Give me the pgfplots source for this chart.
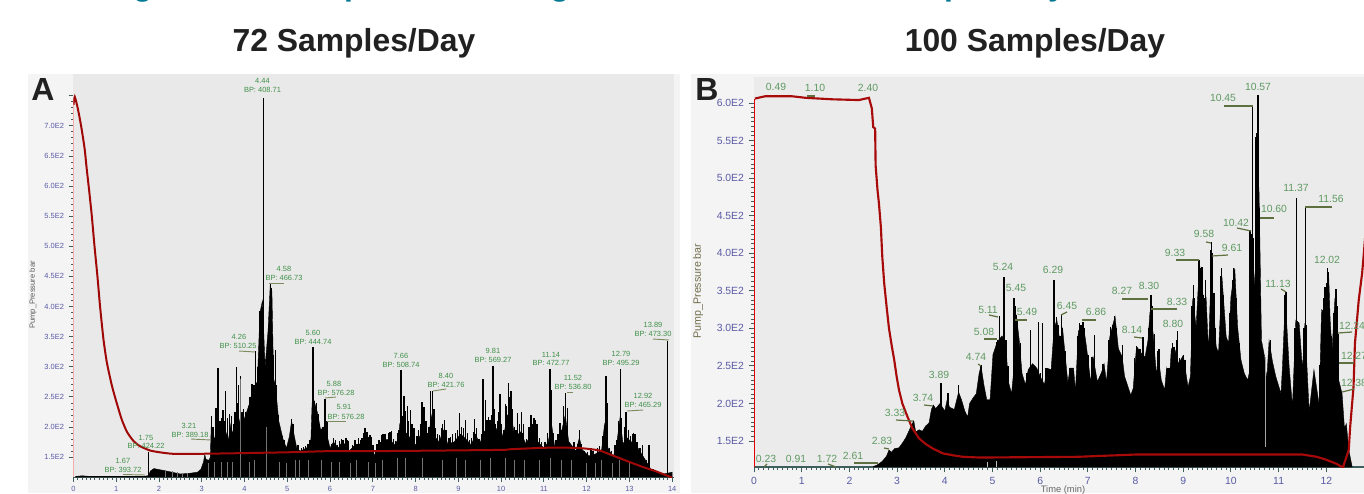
\documentclass[border=0pt]{standalone}
\usepackage{pgfplots}
\pgfplotsset{compat=1.18}
\usepackage{fontspec}
\setmainfont{Liberation Sans}
\definecolor{tickblue}{HTML}{5A5AA6}
\definecolor{tickdark}{HTML}{3E5F5C}
\definecolor{labA}{HTML}{3F9048}
\definecolor{labB}{HTML}{5F9A62}
\definecolor{leadA}{HTML}{7C8C60}
\definecolor{leadB}{HTML}{5F7040}
\definecolor{presA}{HTML}{A00808}
\definecolor{presB}{HTML}{A80A0A}
\definecolor{teal1}{HTML}{007A94}
\newcommand\fA{\fontsize{5.6}{6}\selectfont}
\newcommand\fB{\fontsize{7.8}{8}\selectfont}
\newcommand\La[3]{\node[text=labA,inner sep=0pt] at (#1,#2) {\fA #3};}
\newcommand\Lb[3]{\node[text=labB,inner sep=0pt] at (#1,#2) {\fB #3};}
\newcommand\Da[4]{\draw[leadA,line width=.7pt] (#1,#2)--(#3,#4);}
\newcommand\Db[4]{\draw[leadB,line width=.9pt] (#1,#2)--(#3,#4);}
\pgfplotstableread{
t v
0.05 118
0.2 119
0.4 118
0.8 118
1.2 118
1.6 118
1.74 119
1.76 121
1.8 127
1.88 131
1.95 130
2.1 128
2.3 125
2.5 122
2.7 123
2.9 125
2.98 130
3.04 142
3.07 154
3.1 146
3.17 145
3.2 150
3.22 200
3.3 178
3.36 215
3.42 190
3.5 215
3.55 195
3.62 178
3.68 205
3.72 188
3.8 215
3.85 200
3.9 215
3.95 205
4.0 215
4.05 225
4.12 240
4.2 265
4.3 275
4.36 390
4.42 410
4.48 300
4.55 360
4.6 435
4.64 425
4.68 280
4.72 270
4.8 210
4.9 180
4.98 165
5.05 185
5.1 210
5.15 190
5.22 165
5.3 160
5.45 165
5.55 175
5.58 240
5.62 245
5.7 225
5.78 195
5.85 200
5.95 180
6.0 165
6.08 175
6.2 165
6.25 172
6.35 172
6.45 160
6.55 168
6.7 172
6.82 185
6.95 175
7.03 152
7.12 168
7.25 178
7.4 180
7.5 170
7.6 180
7.63 205
7.7 188
7.8 190
7.9 178
8.0 170
8.1 185
8.2 195
8.3 185
8.38 220
8.44 185
8.55 175
8.65 195
8.75 172
8.9 175
9.05 188
9.15 182
9.3 170
9.4 188
9.5 172
9.6 192
9.72 200
9.85 190
9.95 205
10.05 182
10.15 220
10.25 215
10.32 182
10.45 192
10.58 172
10.7 188
10.85 176
11.0 165
11.1 175
11.18 205
11.25 168
11.38 182
11.5 220
11.58 176
11.75 160
11.83 182
11.9 162
12.05 152
12.2 155
12.35 162
12.42 205
12.5 165
12.62 150
12.7 170
12.78 215
12.85 172
12.95 182
13.05 175
13.2 165
13.35 148
13.5 130
13.65 125
13.8 122
14.0 125
}\bodyA
\pgfplotstableread{
t v
1.75 158
3.23 218
3.26 200
3.33 232
3.38 298
3.43 210
3.47 215
3.5 228
3.53 210
3.56 260
3.6 215
3.65 222
3.7 218
3.75 205
3.78 225
3.81 300
3.84 240
3.86 270
3.91 285
3.94 225
3.98 230
4.02 225
4.05 218
4.09 235
4.13 250
4.17 272
4.22 270
4.26 327
4.3 300
4.33 290
4.36 392
4.4 400
4.44 746
4.5 292
4.53 320
4.56 370
4.6 438
4.63 430
4.67 320
4.72 328
4.75 270
4.78 220
4.82 195
4.88 185
4.92 178
5.03 170
5.1 213
5.13 205
5.17 180
5.25 170
5.33 165
5.38 167
5.43 168
5.48 172
5.53 178
5.6 333
5.63 243
5.68 240
5.72 222
5.75 205
5.82 200
5.88 247
5.91 195
5.93 210
5.97 175
6.04 172
6.08 182
6.12 178
6.17 170
6.22 176
6.27 180
6.3 178
6.33 172
6.37 182
6.4 178
6.43 176
6.5 158
6.53 170
6.58 178
6.63 172
6.67 182
6.71 178
6.75 181
6.79 190
6.82 198
6.86 192
6.9 184
6.93 186
6.97 184
7.0 170
7.07 160
7.1 172
7.14 178
7.18 175
7.21 186
7.24 189
7.28 188
7.32 178
7.36 190
7.4 192
7.44 194
7.48 180
7.53 176
7.57 190
7.6 195
7.64 275
7.66 294
7.69 218
7.73 252
7.77 227
7.81 235
7.84 210
7.88 228
7.92 205
7.96 198
8.03 185
8.07 195
8.11 205
8.15 242
8.2 234
8.24 210
8.28 190
8.31 200
8.35 259
8.4 260
8.43 230
8.47 198
8.51 188
8.56 186
8.6 198
8.63 205
8.67 212
8.71 195
8.78 182
8.82 184
8.87 188
8.93 190
8.98 195
9.03 223
9.07 200
9.12 198
9.17 212
9.21 190
9.26 178
9.31 182
9.35 192
9.38 214
9.43 198
9.48 180
9.54 188
9.58 280
9.63 245
9.67 212
9.7 217
9.74 212
9.78 220
9.81 302
9.84 230
9.87 205
9.91 210
9.94 225
9.97 254
10.01 205
10.07 195
10.1 239
10.13 235
10.17 273
10.2 250
10.23 259
10.27 230
10.31 200
10.35 195
10.39 223
10.43 205
10.47 225
10.5 190
10.53 205
10.6 180
10.65 200
10.7 220
10.74 205
10.77 215
10.8 212
10.84 205
10.9 182
10.95 175
11.03 175
11.08 190
11.14 296
11.18 262
11.22 190
11.28 178
11.33 188
11.38 206
11.42 195
11.46 235
11.5 256
11.55 231
11.6 172
11.65 168
11.7 175
11.78 172
11.83 195
11.87 172
11.95 160
12.02 158
12.1 165
12.15 160
12.25 165
12.3 168
12.38 185
12.45 285
12.48 240
12.53 165
12.58 160
12.66 170
12.7 178
12.75 210
12.79 296
12.82 215
12.88 200
12.92 225
12.98 195
13.03 185
13.07 188
13.1 190
13.13 188
13.18 175
13.25 165
13.3 170
13.4 145
13.46 170
13.55 130
13.6 128
13.7 125
13.89 343
}\spikeA
\pgfplotstableread{
t v
2.15 129
2.3 127
2.42 125
2.55 124
2.65 124
3.15 140
3.28 142
3.45 142
3.6 142
3.72 142
3.91 280
4.1 142
4.22 145
4.5 200
4.8 142
4.97 140
5.18 145
5.28 145
5.5 145
5.8 145
6.02 142
6.22 142
6.47 140
6.6 145
6.9 142
7.05 140
7.22 145
7.58 148
7.75 148
8.16 148
8.62 145
8.95 148
9.15 145
9.52 145
9.75 148
10.1 148
10.3 145
10.55 145
10.9 145
11.15 148
11.4 145
11.65 145
12.0 140
12.2 140
12.35 145
12.6 140
12.75 145
13.0 140
}\dropA
\pgfplotstableread{
t v
0.0 735
0.03 748
0.1 729
0.18 699
0.26 662
0.31 628
0.37 590
0.43 549
0.49 501
0.56 450
0.62 401
0.7 346
0.78 307
0.9 268
1.01 240
1.13 212
1.25 192
1.4 177
1.56 168
1.79 161
2.02 158
2.33 155.5
2.96 155.5
5 158
6 160
7 160
8 160.5
10 162
10.2 163
11 165.5
11.7 165.5
12 164
12.3 161
12.6 153
13 142
13.3 134
13.6 127
14 116
}\presA
\pgfplotstableread{
t v
2.5 116
2.58 118
2.69 123
2.78 130
2.83 138
2.88 135
2.95 140
3.04 141
3.12 148
3.18 154
3.26 165
3.35 177
3.39 162
3.46 165
3.53 163
3.6 170
3.67 174
3.72 192
3.76 198
3.81 193
3.86 197
3.9 200
3.95 195
4.0 190
4.05 205
4.1 195
4.2 192
4.29 215
4.35 205
4.42 190
4.48 182
4.52 200
4.6 208
4.66 213
4.72 240
4.76 250
4.82 225
4.88 205
4.95 205
5.01 265
5.1 282
5.2 290
5.28 280
5.33 230
5.4 213
5.44 240
5.5 318
5.56 285
5.62 240
5.69 225
5.75 245
5.84 253
5.93 247
6.0 236
6.09 225
6.14 247
6.23 245
6.29 300
6.35 311
6.42 280
6.47 300
6.52 267
6.58 228
6.63 247
6.7 247
6.74 216
6.8 296
6.9 307
6.97 276
7.06 228
7.11 262
7.2 229
7.29 242
7.34 253
7.39 228
7.46 289
7.57 316
7.64 273
7.72 262
7.77 236
7.9 211
7.95 220
8.02 276
8.12 267
8.2 262
8.26 284
8.3 320
8.37 293
8.44 236
8.47 265
8.54 231
8.61 218
8.65 247
8.7 222
8.75 273
8.83 271
8.9 253
9.0 264
9.1 222
9.15 236
9.2 340
9.27 302
9.34 387
9.44 329
9.48 340
9.53 269
9.59 390
9.62 347
9.69 276
9.74 267
9.81 370
9.9 289
9.95 280
10.0 342
10.08 380
10.14 302
10.21 258
10.28 240
10.35 231
10.4 245
10.43 418
10.52 342
10.56 520
10.59 480
10.64 284
10.7 264
10.75 231
10.8 284
10.87 256
10.94 236
11.05 213
11.08 249
11.14 340
11.22 249
11.29 196
11.36 311
11.43 307
11.5 245
11.55 307
11.64 189
11.74 245
11.85 198
11.9 325
11.99 320
12.05 370
12.08 311
12.12 271
12.18 340
12.26 231
12.33 213
12.38 167
12.42 173
12.47 138
12.54 116
}\bodyB
\pgfplotstableread{
t v
3.92 227
4.07 214
4.29 225
4.76 251
5.02 267
5.09 282
5.11 284
5.15 316
5.24 368
5.28 284
5.33 250
5.45 340
5.47 330
5.5 318
5.53 310
5.59 280
5.72 240
5.8 298
5.87 250
5.96 308
6.01 240
6.05 307
6.12 247
6.28 364
6.29 364
6.34 315
6.37 305
6.42 290
6.45 318
6.47 300
6.53 270
6.62 247
6.68 247
6.78 290
6.83 307
6.86 305
6.9 309
6.93 300
7.0 265
7.09 262
7.14 291
7.25 235
7.32 253
7.44 285
7.47 302
7.53 305
7.56 316
7.6 300
7.68 265
7.73 278
7.75 245
7.98 260
8.02 276
8.05 270
8.09 272
8.16 289
8.22 262
8.28 300
8.32 344
8.34 330
8.36 295
8.4 293
8.46 270
8.49 273
8.57 225
8.67 247
8.7 247
8.77 280
8.81 275
8.86 285
8.88 296
8.92 260
8.96 258
9.0 264
9.04 258
9.18 330
9.21 358
9.24 340
9.33 391
9.36 380
9.39 382
9.42 345
9.46 340
9.47 364
9.57 405
9.59 415
9.61 400
9.64 347
9.67 300
9.78 370
9.8 380
9.83 345
9.87 290
9.98 320
10.03 365
10.05 380
10.07 378
10.11 340
10.17 280
10.4 431
10.42 425
10.45 595
10.47 420
10.51 420
10.53 555
10.55 560
10.57 611
10.59 460
10.6 446
10.81 280
10.83 284
11.13 345
11.15 349
11.17 330
11.34 300
11.37 473
11.39 310
11.53 300
11.56 462
11.58 305
11.86 251
11.95 340
11.97 355
12.0 360
12.02 380
12.04 375
12.07 311
12.1 290
12.16 320
12.2 353
12.22 330
12.24 293
}\spikeB
\pgfplotstableread{
t v
0.02 606
0.23 609
0.8 609
1.08 607
1.64 605
2.2 604
2.41 607
2.47 593
2.5 568
2.54 566
2.55 517
2.59 484
2.62 466
2.66 435
2.69 395
2.73 360
2.78 329
2.83 300
2.89 276
2.94 258
2.99 236
3.04 218
3.11 200
3.22 182
3.32 167
3.46 153.5
3.6 146
3.75 140
3.96 133.5
4.17 131
4.38 129
4.73 128
6.8 129
8.0 132
11.5 132
11.8 129
12.0 125
12.2 120
12.35 115
12.47 138
12.5 169
12.57 222
12.6 280
12.68 338
12.75 373
12.78 395
12.85 450
}\presB
\begin{document}
\begin{tikzpicture}[x=0.75pt,y=-0.75pt]
\path[use as bounding box] (0,0) rectangle (1364,493);
\fill[white] (0,0) rectangle (1364,493);
\fill[black!4.5] (28,74) rectangle (680,493);
\fill[black!4.5] (691,74) rectangle (1364,493);
% cut-off heading
\foreach \px/\ch in {143/g,354/p,560/g,954/p,1057/y}{
  \node[text=teal1,anchor=base,inner sep=0pt] at (\px,-5) {\fontsize{24}{24}\selectfont\bfseries\ch};}
\begin{axis}[
  at={(55.125pt,-357.75pt)},anchor=south west,scale only axis,
  width=450.6pt,height=302.25pt,
  xmin=0,xmax=14.05,ymin=117,ymax=786,
  axis background/.style={fill=black!8.5},
  axis x line=bottom,axis y line=left,
  x axis line style={-,tickdark,line width=.7pt},
  y axis line style={draw=none},
  xtick={0,...,14},xticklabels={0,1,2,3,4,5,6,7,8,9,10,11,12,13,14},
  ytick={150,200,...,750},
  yticklabels={1.5E2,2.0E2,2.5E2,3.0E2,3.5E2,4.0E2,4.5E2,5.0E2,5.5E2,6.0E2,6.5E2,7.0E2,{}},
  minor x tick num=9,minor y tick num=4,
  tick align=outside,
  major tick length=3.6pt,minor tick length=2pt,
  tick style={tickdark,line width=.6pt},
  tick label style={text=tickblue,font=\fA},
  every axis plot/.append style={mark=none},
]
\addplot[fill=black,draw=black,line width=.3pt] table[x=t,y=v] {\bodyA} \closedcycle;
\addplot[ycomb,black,line width=1.05pt] table[x=t,y=v] {\spikeA};
\addplot[ycomb,black!55,line width=.3pt] table[x=t,y=v] {\dropA};
\addplot[red!45!white,line width=1pt] coordinates {(0,117)(0,745)};
\addplot[presA,line width=1.5pt,smooth,tension=0.35] table[x=t,y=v] {\presA};
\end{axis}
\begin{axis}[
  at={(565.5pt,-350.25pt)},anchor=south west,scale only axis,
  width=457.5pt,height=292.5pt,
  xmin=0,xmax=12.79,ymin=115.4,ymax=634.7,
  axis background/.style={fill=black!8},
  axis x line=bottom,axis y line=left,
  x axis line style={-,tickdark,line width=.8pt},
  y axis line style={draw=none},
  xtick={0,...,12},xticklabels={0,1,2,3,4,5,6,7,8,9,10,11,12},
  ytick={150,200,...,600},
  yticklabels={1.5E2,2.0E2,2.5E2,3.0E2,3.5E2,4.0E2,4.5E2,5.0E2,5.5E2,6.0E2},
  minor x tick num=9,minor y tick num=7,
  tick align=outside,
  major tick length=4pt,minor tick length=2.4pt,
  tick style={tickdark,line width=.7pt},
  tick label style={text=tickblue,font=\fB},
  every axis plot/.append style={mark=none},
]
\addplot[fill=black,draw=black,line width=.3pt] table[x=t,y=v] {\bodyB} \closedcycle;
\addplot[ycomb,black,line width=1.1pt] table[x=t,y=v] {\spikeB};
\addplot[ycomb,black!25,line width=.7pt] coordinates {(4.9,122)(5.08,124)};
\addplot[black!35,line width=.5pt] coordinates {(10.72,142)(10.72,262)};
\addplot[red!90!black,line width=1.4pt] coordinates {(0,116)(0,606)};
\addplot[presB,line width=1.6pt] table[x=t,y=v] {\presB};
\end{axis}
% titles
\node[text=black!87,inner sep=0pt] at (354,43.5) {\fontsize{23.9}{26}\selectfont\bfseries 72 Samples/Day};
\node[text=black!87,inner sep=0pt] at (1035,43.5) {\fontsize{23.9}{26}\selectfont\bfseries 100 Samples/Day};
\node[text=black!87,inner sep=0pt] at (43,89) {\fontsize{24}{26}\selectfont\bfseries A};
\node[text=black!87,inner sep=0pt] at (707,89) {\fontsize{24}{26}\selectfont\bfseries B};
% axis titles
\node[text=black!65,rotate=90,inner sep=0pt] at (33,295) {\fontsize{5.7}{6}\selectfont Pump\_Pressure bar};
\node[text=black!45!olive!60!gray,rotate=90,inner sep=0pt] at (698,291) {\fontsize{8}{9}\selectfont Pump\_Pressure bar};
\node[text=black!60,inner sep=0pt] at (1063,490) {\fontsize{7}{8}\selectfont Time (min)};
% panel A annotations
\La{262.5}{81}{4.44}\La{262.5}{90}{BP: 408.71}
\La{123}{461}{1.67}\La{123}{470}{BP: 393.72}\Da{123}{474.5}{145}{475}
\La{146}{438}{1.75}\La{146}{446}{BP: 424.22}
\La{189}{426}{3.21}\La{190}{435}{BP: 389.18}\Da{191}{439}{211}{440}
\La{239}{337}{4.26}\La{238}{346}{BP: 510.25}\Da{239}{351}{255}{352}
\La{284}{269}{4.58}\La{284}{278}{BP: 466.73}\Da{269}{283}{284}{283}
\La{313}{333}{5.60}\La{313}{342}{BP: 444.74}
\La{334}{384}{5.88}\La{336}{393}{BP: 576.28}\Da{325}{398}{336}{397}
\La{344}{407}{5.91}\La{346}{417}{BP: 576.28}\Da{327}{421}{346}{421}
\La{401}{356}{7.66}\La{401}{365}{BP: 508.74}
\La{446}{376}{8.40}\La{446}{385}{BP: 421.76}\Da{433}{391}{446}{389}
\La{493}{351}{9.81}\La{493}{360}{BP: 569.27}
\La{551}{355}{11.14}\La{551}{363}{BP: 472.77}
\La{573}{378}{11.52}\La{573}{387}{BP: 536.80}\Da{567}{392}{573}{392}
\La{621}{354}{12.79}\La{621}{363}{BP: 495.29}
\La{643}{396}{12.92}\La{643}{405}{BP: 465.29}\Da{627}{411}{643}{410}
\La{653}{325}{13.89}\La{653}{334}{BP: 473.30}\Da{653}{339}{669}{340}
% panel B annotations
\Lb{776}{87}{0.49}\Lb{815}{88}{1.10}\Db{807}{96}{815}{96}\Lb{868}{88}{2.40}
\Lb{1258}{87}{10.57}
\Lb{1223}{98}{10.45}\Db{1224}{106}{1253}{106}
\Lb{1274}{209}{10.60}\Db{1260}{218}{1274}{218}
\Lb{1236}{223}{10.42}\Db{1237}{228}{1251}{231}
\Lb{1296}{188}{11.37}
\Lb{1331}{199}{11.56}\Db{1305}{207}{1332}{207}
\Lb{1204}{234}{9.58}\Db{1206}{242}{1211}{243}
\Lb{1232}{248}{9.61}\Db{1212}{256}{1228}{255}
\Lb{1175}{253}{9.33}\Db{1176}{260}{1199}{260}
\Lb{1327}{260}{12.02}
\Lb{1053}{270}{6.29}
\Lb{1149}{286}{8.30}
\Lb{1122}{291}{8.27}\Db{1122}{299}{1148}{299}
\Lb{1177}{302}{8.33}\Db{1151}{309}{1177}{309}
\Lb{1278}{284}{11.13}\Db{1281}{289}{1286}{292}
\Lb{1067}{306}{6.45}\Db{1061}{315}{1067}{312}
\Lb{1096}{312}{6.86}\Db{1082}{320}{1096}{320}
\Lb{1132}{330}{8.14}\Db{1134}{337}{1142}{338}
\Lb{1173}{324}{8.80}
\Lb{1352}{326}{12.24}\Db{1338}{333}{1352}{332}
\Lb{1354}{356}{12.27}\Db{1339}{363}{1354}{363}
\Lb{1354}{383}{12.38}\Db{1342}{392}{1354}{389}
\Lb{1003}{267}{5.24}
\Lb{1016}{288}{5.45}
\Lb{988}{310}{5.11}\Db{989}{315}{998}{317}
\Lb{1027}{312}{5.49}\Db{1015}{320}{1027}{320}
\Lb{984}{332}{5.08}\Db{984}{339}{997}{339}
\Lb{976}{357}{4.74}\Db{978}{364}{981}{366}
\Lb{939}{375}{3.89}
\Lb{923}{398}{3.74}\Db{924}{405}{933}{406}
\Lb{895}{413}{3.33}\Db{896}{420}{913}{421}
\Lb{882}{441}{2.83}\Db{884}{448}{889}{449}
\Lb{853}{456}{2.61}\Db{854}{463}{878}{463}
\Lb{827}{459}{1.72}\Db{828}{464}{836}{467}
\Lb{796}{459}{0.91}
\Lb{766}{459}{0.23}\Db{764}{467}{767}{464}
\end{tikzpicture}
\end{document}
